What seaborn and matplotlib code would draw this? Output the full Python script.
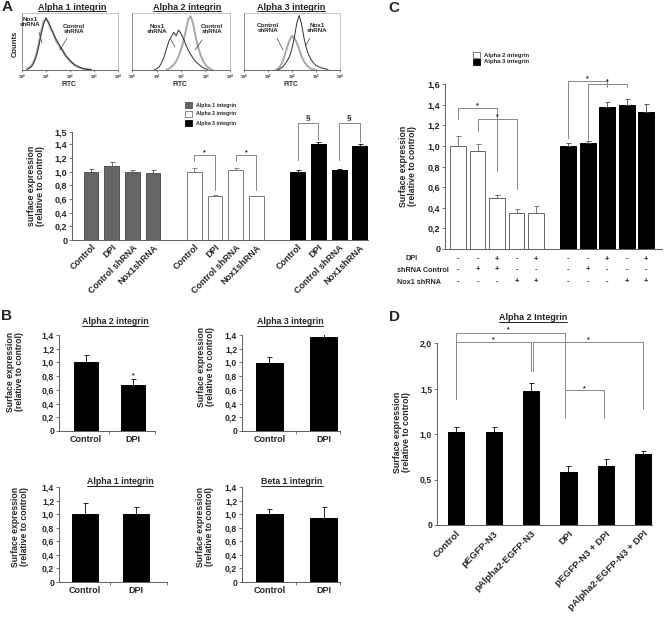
import numpy as np
import pandas as pd
import seaborn as sns
import matplotlib.pyplot as plt
from matplotlib.lines import Line2D
from matplotlib.patches import Rectangle
from matplotlib import transforms

sns.set_style('ticks')
plt.rcParams['font.family'] = ['Liberation Sans', 'DejaVu Sans']
plt.rcParams['font.weight'] = 'bold'
plt.rcParams['mathtext.default'] = 'regular'

# ---------------- data ----------------
# A: flow cytometry histograms (log10 FITC, counts as % of max)
h1_lx = [0.2, 0.3, 0.4, 0.5, 0.6, 0.7, 0.8, 0.9, 1.0, 1.1, 1.2, 1.3, 1.4, 1.5,
         1.6, 1.7, 1.8, 1.9, 2.0, 2.1, 2.2, 2.3, 2.4, 2.5, 2.6, 2.7, 2.8, 2.9]
h1_nox = [1, 3, 6, 13, 24, 42, 63, 80, 92, 84, 75, 64, 56, 48,
          41, 33, 27, 21, 17, 12, 9, 7, 5, 3, 2, 1, 1, 0]
h1_ctl = [2, 4, 8, 16, 28, 47, 68, 86, 88, 83, 71, 66, 52, 46,
          38, 35, 25, 22, 15, 13, 8, 6, 4, 3, 2, 2, 1, 0]

h2_lx_nox = [0.9, 1.0, 1.1, 1.2, 1.3, 1.4, 1.5, 1.6, 1.7, 1.8, 1.9, 2.0,
             2.1, 2.2, 2.3, 2.4, 2.5, 2.6, 2.7, 2.8, 2.9, 3.0, 3.1]
h2_nox = [0, 2, 5, 12, 22, 36, 50, 58, 66, 60, 70, 64,
          55, 44, 34, 27, 20, 15, 11, 7, 4, 2, 1]
h2_lx_ctl = [1.4, 1.5, 1.6, 1.7, 1.8, 1.9, 2.0, 2.1, 2.2, 2.3, 2.4, 2.5,
             2.6, 2.7, 2.8, 2.9, 3.0, 3.1, 3.2, 3.3]
h2_ctl = [0, 2, 5, 9, 15, 24, 36, 50, 70, 90, 94, 80,
          58, 40, 26, 16, 9, 5, 2, 0]

h3_lx_ctl = [1.3, 1.4, 1.5, 1.6, 1.7, 1.8, 1.9, 2.0, 2.1, 2.2, 2.3, 2.4,
             2.5, 2.6, 2.7, 2.8, 2.9, 3.0]
h3_ctl = [0, 2, 6, 14, 26, 40, 52, 60, 56, 48, 36, 24,
          15, 9, 5, 2, 1, 0]
h3_lx_nox = [1.4, 1.5, 1.6, 1.7, 1.8, 1.9, 2.0, 2.1, 2.2, 2.3, 2.4, 2.5,
             2.6, 2.7, 2.8, 2.9, 3.0, 3.1, 3.2, 3.3, 3.4, 3.5]
h3_nox = [0, 2, 5, 10, 16, 24, 38, 58, 82, 96, 80, 56,
          38, 26, 18, 12, 8, 6, 4, 3, 2, 1]

# A: bar chart
a_labels = ['Control', 'DPI', 'Control shRNA', 'Nox1shRNA']
a_alpha1 = [1.00, 1.08, 1.00, 0.98]
a_alpha1_err = [0.04, 0.06, 0.03, 0.05]
a_alpha2 = [1.00, 0.64, 1.02, 0.64]
a_alpha2_err = [0.06, 0.02, 0.03, 0.01]
a_alpha3 = [1.00, 1.41, 1.02, 1.38]
a_alpha3_err = [0.02, 0.02, 0.02, 0.02]
a_legend = ['Alpha 1 integrin', 'Alpha 2 integrin', 'Alpha 3 integrin']

# B: four small panels
b_labels = ['Control', 'DPI']
b_alpha2 = [1.01, 0.67]
b_alpha2_err = [0.10, 0.09]
b_alpha3 = [0.99, 1.37]
b_alpha3_err = [0.09, 0.11]
b_alpha1 = [1.00, 1.00]
b_alpha1_err = [0.16, 0.11]
b_beta1 = [1.00, 0.94]
b_beta1_err = [0.07, 0.17]

# C: alpha 2 / alpha 3 with DPI and shRNA
c_alpha2 = [1.00, 0.95, 0.49, 0.35, 0.35]
c_alpha2_err = [0.10, 0.07, 0.03, 0.04, 0.07]
c_alpha3 = [1.00, 1.03, 1.38, 1.40, 1.33]
c_alpha3_err = [0.03, 0.02, 0.05, 0.05, 0.08]
c_legend = ['Alpha 2 integrin', 'Alpha 3 integrin']
c_rows = ['DPI', 'shRNA Control', 'Nox1 shRNA']
c_dpi = ['-', '-', '+', '-', '+', '-', '-', '+', '-', '+']
c_shctl = ['-', '+', '+', '-', '-', '-', '+', '-', '-', '-']
c_nox = ['-', '-', '-', '+', '+', '-', '-', '-', '+', '+']

# D: alpha 2 integrin rescue
d_labels = ['Control', 'pEGFP-N3', 'pAlpha2-EGFP-N3', 'DPI',
            'pEGFP-N3 + DPI', 'pAlpha2-EGFP-N3 + DPI']
d_vals = [1.02, 1.02, 1.47, 0.58, 0.65, 0.78]
d_err = [0.06, 0.06, 0.09, 0.07, 0.08, 0.03]

# ---------------- helpers ----------------
W, H = 664, 618
fig = plt.figure(figsize=(W / 100, H / 100), dpi=100)
GRAY = '#888888'
underlined = []


def rect(l, t, r, b):
    return [l / W, 1 - b / H, (r - l) / W, (b - t) / H]


def ftext(x, y, s, **kw):
    kw.setdefault('ha', 'center')
    kw.setdefault('va', 'center')
    kw.setdefault('fontweight', 'bold')
    return fig.text(x / W, 1 - y / H, s, **kw)


def fline(xs, ys, **kw):
    fig.add_artist(Line2D([x / W for x in xs], [1 - y / H for y in ys],
                          transform=fig.transFigure, **kw))


def fbox(x, y, w, h, fc, ec):
    fig.add_artist(Rectangle((x / W, 1 - (y + h) / H), w / W, h / H,
                             transform=fig.transFigure, fc=fc, ec=ec, lw=0.6))


def comma(v):
    return '0' if v == 0 else f'{v:.1f}'.replace('.', ',')


def style_ax(ax, yticks, ylim, fs, labels=None):
    ax.set_ylim(*ylim)
    ax.set_yticks(yticks)
    ax.set_yticklabels(labels or [comma(v) for v in yticks],
                       fontsize=fs, fontweight='bold')
    for s in ['top', 'right']:
        ax.spines[s].set_visible(False)
    for s in ['left', 'bottom']:
        ax.spines[s].set_linewidth(0.6)
        ax.spines[s].set_color('#444444')
    ax.tick_params(axis='y', length=2, width=0.5, pad=1.5, color='#444444')
    ax.tick_params(axis='x', length=0)
    ax.set_xlabel('')
    ax.set_ylabel('')


def bars(ax, pos, vals, errs, color, edge, width, ecolor='black'):
    sns.barplot(x=pos, y=vals, native_scale=True, color=color, saturation=1,
                width=width, edgecolor=edge, linewidth=0.7, errorbar=None, ax=ax)
    ax.errorbar(pos, vals, yerr=[np.zeros(len(errs)), errs], fmt='none',
                ecolor=ecolor, elinewidth=0.6, capsize=1.8, capthick=0.6)


def bracket(ax, x1, x2, y, y1, y2, mark='*', fs=5, off=1.5):
    ax.plot([x1, x1, x2, x2], [y1, y, y, y2], color=GRAY, lw=0.7, clip_on=False)
    ax.annotate(mark, xy=((x1 + x2) / 2, y), xytext=(0, off),
                textcoords='offset points', ha='center', va='center',
                fontsize=fs, fontweight='bold', annotation_clip=False)


# ---------------- A: histograms ----------------
hists = [
    ((22, 13, 118, 70), h1_lx, h1_ctl, h1_lx, h1_nox, 'Alpha 1 integrin', 72),
    ((132, 13, 230, 70), h2_lx_ctl, h2_ctl, h2_lx_nox, h2_nox, 'Alpha 2 integrin', 187),
    ((244, 13, 340, 70), h3_lx_ctl, h3_ctl, h3_lx_nox, h3_nox, 'Alpha 3 integrin', 291),
]
for r, lxc, yc, lxn, yn, title, tx in hists:
    ax = fig.add_axes(rect(*r))
    sns.lineplot(x=10 ** np.array(lxc), y=yc, color='#a8a8a8', lw=1.4, ax=ax, estimator=None)
    sns.lineplot(x=10 ** np.array(lxn), y=yn, color='#303030', lw=0.7, ax=ax, estimator=None)
    ax.set_xscale('log')
    ax.set_xlim(1, 1e4)
    ax.set_ylim(0, 100)
    ax.set_yticks([])
    ax.set_xticks([1, 10, 100, 1000, 10000])
    ax.set_xticklabels(['$10^0$', '$10^1$', '$10^2$', '$10^3$', '$10^4$'], fontsize=2.8)
    ax.minorticks_off()
    ax.tick_params(axis='x', length=1.5, width=0.4, pad=0.3)
    for s in ax.spines.values():
        s.set_color('#bbbbbb')
        s.set_linewidth(0.6)
    ax.spines['bottom'].set_color('#555555')
    ax.spines['left'].set_color('#777777')
    ax.set_xlabel('')
    ax.set_ylabel('')
    underlined.append(ftext(tx, 7, title, fontsize=6.5))
    ftext((r[0] + r[2]) / 2 - 1, 84, 'FITC', fontsize=4.8)

ftext(15, 44, 'Counts', fontsize=5.5, rotation=90)
for (tx, ty, s, lx, ly) in [
        (30, 22, 'Nox1\nshRNA', [39, 42], [32, 43]),
        (74, 29, 'Control\nshRNA', [67, 60], [38, 50]),
        (157, 29, 'Nox1\nshRNA', [170, 175], [38, 47]),
        (212, 29, 'Control\nshRNA', [202, 195], [40, 50]),
        (268, 28, 'Control\nshRNA', [277, 283], [38, 50]),
        (317, 28, 'Nox1\nshRNA', [310, 306], [38, 45])]:
    ftext(tx, ty, s, fontsize=4.5, linespacing=1.0)
    fline(lx, ly, color='#444444', lw=0.5)

ftext(7, 7, 'A', fontsize=11)

# ---------------- A: bar chart ----------------
ax = fig.add_axes(rect(72, 132, 368, 240))
pos1 = np.arange(4)
pos2 = pos1 + 5
pos3 = pos1 + 10
bars(ax, pos1, a_alpha1, a_alpha1_err, '#666666', '#555555', 0.72, '#555555')
bars(ax, pos2, a_alpha2, a_alpha2_err, 'white', '#777777', 0.72, '#777777')
bars(ax, pos3, a_alpha3, a_alpha3_err, 'black', 'black', 0.72, 'black')
ax.set_xlim(-0.92, 13.4)
ticks = [0, 0.2, 0.4, 0.6, 0.8, 1.0, 1.2, 1.4, 1.58]
style_ax(ax, ticks, (0, 1.58), 6.5,
         labels=['0', '0,2', '0,4', '0,6', '0,8', '1,0', '1,2', '1,4', '1,5'])
ax.set_xticks(np.concatenate([pos1, pos2, pos3]))
ax.set_xticklabels(a_labels * 3, rotation=45, ha='right', rotation_mode='anchor',
                   fontsize=6.5, fontweight='bold')
ax.tick_params(axis='x', pad=2)
bracket(ax, pos2[0], pos2[1], 1.25, 1.15, 0.73)
bracket(ax, pos2[2], pos2[3], 1.25, 1.15, 0.73)
bracket(ax, pos3[0], pos3[1], 1.71, 1.17, 1.46, mark='\u00a7', fs=6, off=4)
bracket(ax, pos3[2], pos3[3], 1.71, 1.17, 1.44, mark='\u00a7', fs=6, off=4)
ftext(36, 186, 'surface expression\n(relative to control)', fontsize=6.3,
      rotation=90, linespacing=1.1)
for i, (lab, fc, ec) in enumerate(zip(a_legend, ['#666666', 'white', 'black'],
                                      ['#555555', '#777777', 'black'])):
    fbox(185, 102 + 9 * i, 7, 6, fc, ec)
    ftext(196, 105 + 9 * i, lab, fontsize=3.8, ha='left')

# ---------------- B ----------------
ftext(6, 316, 'B', fontsize=11)
b_panels = [
    ((59, 335, 155, 431), (-0.57, 1.47), b_alpha2, b_alpha2_err, 'Alpha 2 integrin', (115, 322), (15, 372)),
    ((242, 335, 340, 431), (-0.5, 1.3), b_alpha3, b_alpha3_err, 'Alpha 3 integrin', (290, 322), (206, 367)),
    ((59, 487, 167, 582), (-0.5, 1.6), b_alpha1, b_alpha1_err, 'Alpha 1 integrin', (120, 482), (20, 527)),
    ((242, 487, 340, 582), (-0.5, 1.3), b_beta1, b_beta1_err, 'Beta 1 integrin', (292, 482), (205, 527)),
]
for k, (r, xl, vals, errs, title, txy, lxy) in enumerate(b_panels):
    ax = fig.add_axes(rect(*r))
    bars(ax, [0, 1], vals, errs, 'black', 'black', 0.5)
    ax.set_xlim(*xl)
    style_ax(ax, [0, 0.2, 0.4, 0.6, 0.8, 1.0, 1.2, 1.4], (0, 1.4), 6.2)
    ax.set_xticks([0, 1])
    ax.set_xticklabels(b_labels, fontsize=6.5, fontweight='bold')
    ax.set_xticks([0.5, xl[1]], minor=True)
    ax.tick_params(axis='x', which='minor', length=2, width=0.5, color='#444444')
    ax.tick_params(axis='x', which='major', pad=3)
    underlined.append(ftext(txy[0], txy[1], title, fontsize=6.3))
    ftext(lxy[0], lxy[1], 'Surface expression\n(relative to control)', fontsize=6.2,
          rotation=90, linespacing=1.1)
    if k == 0:
        ax.annotate('*', xy=(1, vals[1] + errs[1]), xytext=(0, 2.5),
                    textcoords='offset points', ha='center', va='center',
                    fontsize=5, fontweight='bold')

# ---------------- C ----------------
ftext(394, 8, 'C', fontsize=11)
ax = fig.add_axes(rect(445, 84, 662, 249))
cw = np.arange(5)
cb = np.arange(5) + 5.65
bars(ax, cw, c_alpha2, c_alpha2_err, 'white', '#666666', 0.8, '#666666')
bars(ax, cb, c_alpha3, c_alpha3_err, 'black', 'black', 0.82, '#444444')
ax.set_xlim(-0.67, 10.46)
style_ax(ax, [0, 0.2, 0.4, 0.6, 0.8, 1.0, 1.2, 1.4, 1.6], (0, 1.6), 6.5)
ax.set_xticks([])
bracket(ax, cw[0], cw[2], 1.37, 1.26, 0.76)
bracket(ax, cw[1], cw[3], 1.26, 1.14, 0.58)
bracket(ax, cb[0], cb[2], 1.63, 1.08, 1.57)
bracket(ax, cb[1], cb[3], 1.60, 1.07, 1.57)
ftext(408, 166, 'Surface expression\n(relative to control)', fontsize=6.3,
      rotation=90, linespacing=1.1)
for i, (lab, fc, ec) in enumerate(zip(c_legend, ['white', 'black'], ['#666666', 'black'])):
    fbox(473, 52 + 7 * i, 7, 6, fc, ec)
    ftext(484, 55 + 7 * i, lab, fontsize=4.3, ha='left')
tr = transforms.blended_transform_factory(ax.transData, fig.transFigure)
allpos = np.concatenate([cw, cb])
for row, signs, y, lx in zip(c_rows, [c_dpi, c_shctl, c_nox], [259, 270, 282], [405, 397, 397]):
    ftext(lx, y, row, fontsize=5.2, ha='left')
    for p, s in zip(allpos, signs):
        ax.text(p, 1 - y / H, s, transform=tr, ha='center', va='center',
                fontsize=5.5, fontweight='bold')

# ---------------- D ----------------
ftext(395, 317, 'D', fontsize=11)
ax = fig.add_axes(rect(437, 343, 652, 525))
dp = np.arange(6)
bars(ax, dp, d_vals, d_err, 'black', 'black', 0.43)
ax.set_xlim(-0.51, 5.23)
style_ax(ax, [0, 0.5, 1.0, 1.5, 2.0], (0, 2.0), 6.2)
ax.set_xticks(dp)
ax.set_xticklabels(d_labels, rotation=45, ha='right', rotation_mode='anchor',
                   fontsize=6.8, fontweight='bold')
ax.tick_params(axis='x', pad=3)
ax.plot([0, 0, 2.9, 2.9], [1.38, 2.11, 2.11, 1.18], color=GRAY, lw=0.7, clip_on=False)
ax.annotate('*', xy=(1.4, 2.11), xytext=(0, 2), textcoords='offset points',
            ha='center', va='center', fontsize=5, annotation_clip=False)
bracket(ax, 0, 2, 2.01, 1.38, 1.69)
bracket(ax, 2.05, 5, 2.01, 1.69, 1.27)
bracket(ax, 2.9, 3.95, 1.48, 1.48, 1.18)
underlined.append(ftext(533, 318, 'Alpha 2 Integrin', fontsize=6.5))
ftext(402, 432, 'Surface expression\n(relative to control)', fontsize=6.3,
      rotation=90, linespacing=1.1)

# underline titles
fig.canvas.draw()
inv = fig.transFigure.inverted()
for t in underlined:
    bb = t.get_window_extent().transformed(inv)
    fig.add_artist(Line2D([bb.x0, bb.x1], [bb.y0 + 0.001, bb.y0 + 0.001],
                          transform=fig.transFigure, color='black', lw=0.6))

fig.savefig('out.png', dpi=100)
